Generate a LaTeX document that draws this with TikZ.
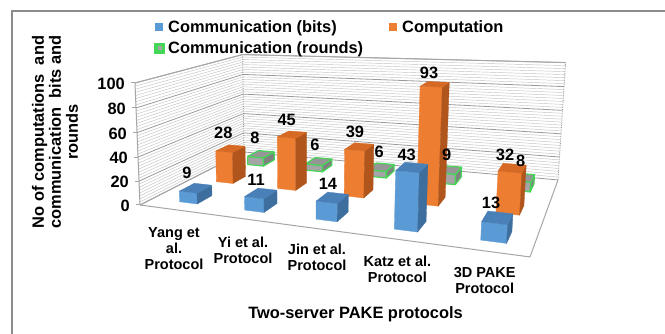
\documentclass[tikz,border=0pt]{standalone}
\usepackage{fontspec}
\setmainfont{Liberation Sans}
\definecolor{cbfront}{HTML}{5B9BD5}
\definecolor{cbtop}{HTML}{4A80B8}
\definecolor{cbside}{HTML}{3D6E9E}
\definecolor{cofront}{HTML}{ED7D31}
\definecolor{cotop}{HTML}{D66A24}
\definecolor{coside}{HTML}{B0561C}
\definecolor{cgfront}{HTML}{A5A5A5}
\definecolor{cgtop}{HTML}{969696}
\definecolor{cgside}{HTML}{808080}
\definecolor{cgline}{HTML}{45D557}
\definecolor{cframe}{HTML}{8C8C8C}
\definecolor{cgridmin}{HTML}{C4C4C4}
\definecolor{cgridmaj}{HTML}{9A9A9A}
\definecolor{cedge}{HTML}{A6A6A6}
% perspective projection: u along categories, v depth, z height (0..1)
\newcommand\prj[4]{%
  \pgfmathsetmacro\prjw{1-0.2166*(#2)+0.2614*(#3)-0.03*(#4)}%
  \pgfmathsetmacro\prjx{(275.2*(#2)+167.8*(#3)-9.05*(#4)+140)/\prjw}%
  \pgfmathsetmacro\prjy{(-3.7*(#2)-13.3*(#3)-124.5*(#4)+205)/\prjw}%
  \coordinate (#1) at (\prjx pt,-\prjy pt);}
\newcommand\drawbar[4]{%
  \pgfmathsetmacro\bua{#1+0.015-0.028}\pgfmathsetmacro\bub{#1+0.015+0.028}%
  \pgfmathsetmacro\bva{#2-0.065}\pgfmathsetmacro\bvb{#2+0.065}%
  \pgfmathsetmacro\bzz{#3}%
  \prj{p1}{\bua}{\bva}{0}\prj{p2}{\bub}{\bva}{0}\prj{p3}{\bub}{\bvb}{0}%
  \prj{q1}{\bua}{\bva}{\bzz}\prj{q2}{\bub}{\bva}{\bzz}\prj{q3}{\bub}{\bvb}{\bzz}\prj{q4}{\bua}{\bvb}{\bzz}%
  \path[#4front] (p1)--(p2)--(q2)--(q1)--cycle;
  \path[#4side] (p2)--(p3)--(q3)--(q2)--cycle;
  \path[#4top] (q1)--(q2)--(q3)--(q4)--cycle;}
\begin{document}
\begin{tikzpicture}[x=1pt,y=1pt,
  gridminor/.style={draw=cgridmin,line width=0.45pt},
  gridmajor/.style={draw=cgridmaj,line width=0.8pt},
  edge/.style={draw=cedge,line width=1pt},
  dotedge/.style={draw=cgridmaj,line width=0.8pt,densely dotted},
  bfront/.style={fill=cbfront,draw=cbfront,line width=0.3pt,line join=round},
  bside/.style={fill=cbside,draw=cbside,line width=0.3pt,line join=round},
  btop/.style={fill=cbtop,draw=cbtop,line width=0.3pt,line join=round},
  ofront/.style={fill=cofront,draw=cofront,line width=0.3pt,line join=round},
  oside/.style={fill=coside,draw=coside,line width=0.3pt,line join=round},
  otop/.style={fill=cotop,draw=cotop,line width=0.3pt,line join=round},
  gfront/.style={fill=cgfront,draw=cgline,line width=1.2pt,line join=round},
  gside/.style={fill=cgside,draw=cgline,line width=1.2pt,line join=round},
  gtop/.style={fill=cgtop,draw=cgline,line width=1.2pt,line join=round},
  datalbl/.style={font=\fontsize{16.4}{17}\selectfont\bfseries,inner sep=0pt},
  axlbl/.style={font=\fontsize{16.4}{17}\selectfont\bfseries,inner sep=0pt,anchor=east},
  catlbl/.style={font=\fontsize{14.5}{16}\selectfont\bfseries,inner sep=0pt,align=center,anchor=north},
  legtxt/.style={font=\fontsize{16.4}{17}\selectfont\bfseries,inner sep=0pt,anchor=base west},
  title/.style={font=\fontsize{16.4}{17}\selectfont\bfseries,inner sep=0pt,align=center}]
\useasboundingbox (0,0) rectangle (665,-334);
\fill[white] (0,0) rectangle (665,-334);
% frame
\draw[cframe,line width=1.2pt] (12,-334) -- (12,-11) -- (665,-11);
% walls and floor corners
\prj{F0}{0}{0}{0}\prj{F1}{0}{0}{1}\prj{R0}{1}{0}{0}
\prj{B0}{0}{1}{0}\prj{B1}{0}{1}{1}\prj{C0}{1}{1}{0}\prj{C1}{1}{1}{1}
% gridlines on walls
\foreach \k in {0,...,40}{
  \pgfmathsetmacro\zz{\k/40}
  \pgfmathtruncatemacro\mm{mod(\k,8)}
  \prj{w1}{0}{0}{\zz}\prj{w2}{0}{1}{\zz}\prj{w3}{1}{1}{\zz}
  \ifnum\mm=0 \draw[gridmajor] (w1)--(w2)--(w3); \else \draw[gridminor] (w1)--(w2)--(w3); \fi
}
% wall edges
\draw[edge] (F0)--(F1)--(B1)--(C1);
\draw[dotedge] (B0)--(B1);
\draw[dotedge] (C0)--(C1);
% floor
\draw[edge] (F0)--(R0)--(C0);
\draw[edge] (F0)--(B0);
% ticks and value labels
\foreach \t/\lab in {0/0,0.2/20,0.4/40,0.6/60,0.8/80,1/100}{
  \prj{tk}{0}{0}{\t}
  \draw[edge] (tk) -- ++(-4,0);
  \node[axlbl] (ax\lab) at ([xshift=-10pt,yshift=-1pt]tk) {\lab};
}
% bars: back row (rounds), middle row (computation), front row (bits)
\foreach \i/\g in {0/8,1/6,2/6,3/9,4/8}{\drawbar{(\i+0.5)/5}{0.8333}{\g/100}{g}}
\foreach \i/\g in {0/28,1/45,2/39,3/93,4/32}{\drawbar{(\i+0.5)/5}{0.5}{\g/100}{o}}
\foreach \i/\g in {0/9,1/11,2/14,3/43,4/13}{\drawbar{(\i+0.5)/5}{0.1667}{\g/100}{b}}
% data labels
\node[datalbl] (lb1) at (187,-172.5) {9};
\node[datalbl] (lb2) at (256,-180) {11};
\node[datalbl] (lb3) at (328,-183.5) {14};
\node[datalbl] (lb4) at (406.7,-155) {43};
\node[datalbl] (lb5) at (491,-203.3) {13};
\node[datalbl] (lo1) at (223.3,-133.3) {28};
\node[datalbl] (lo2) at (286.7,-120) {45};
\node[datalbl] (lo3) at (355,-131.7) {39};
\node[datalbl] (lo4) at (429,-73.3) {93};
\node[datalbl] (lo5) at (505,-155) {32};
\node[datalbl] (lg1) at (255,-138.3) {8};
\node[datalbl] (lg2) at (315,-145) {6};
\node[datalbl] (lg3) at (379.3,-151.7) {6};
\node[datalbl] (lg4) at (446.7,-155) {9};
\node[datalbl] (lg5) at (520.7,-160.7) {8};
% category labels
\node[catlbl] (c1) at (174,-227.2) {Yang et\\al.\\Protocol};
\node[catlbl] (c2) at (243,-236.7) {Yi et al.\\Protocol};
\node[catlbl] (c3) at (317,-244) {Jin et al.\\Protocol};
\node[catlbl] (c4) at (397.4,-255.7) {Katz et al.\\Protocol};
\node[catlbl] (c5) at (484.7,-266.7) {3D PAKE\\Protocol};
% axis titles
\node[title,anchor=base] (xtitle) at (355.5,-319) {Two-server PAKE protocols};
\node[title,rotate=90] (ytitle) at (55,-132) {No of computations~~and\\communication~~bits and\\rounds};
% legend
\fill[cbfront] (155,-23) rectangle (163,-31);
\node[legtxt] (leg1) at (168,-32.3) {Communication (bits)};
\fill[cofront] (389,-23) rectangle (397,-31);
\node[legtxt] (leg2) at (402,-32.3) {Computation};
\fill[cgline] (154,-43) rectangle (165,-54);
\fill[cgfront] (157.5,-46.5) rectangle (161.5,-50.5);
\node[legtxt] (leg3) at (168,-53.8) {Communication (rounds)};
\end{tikzpicture}
\end{document}
